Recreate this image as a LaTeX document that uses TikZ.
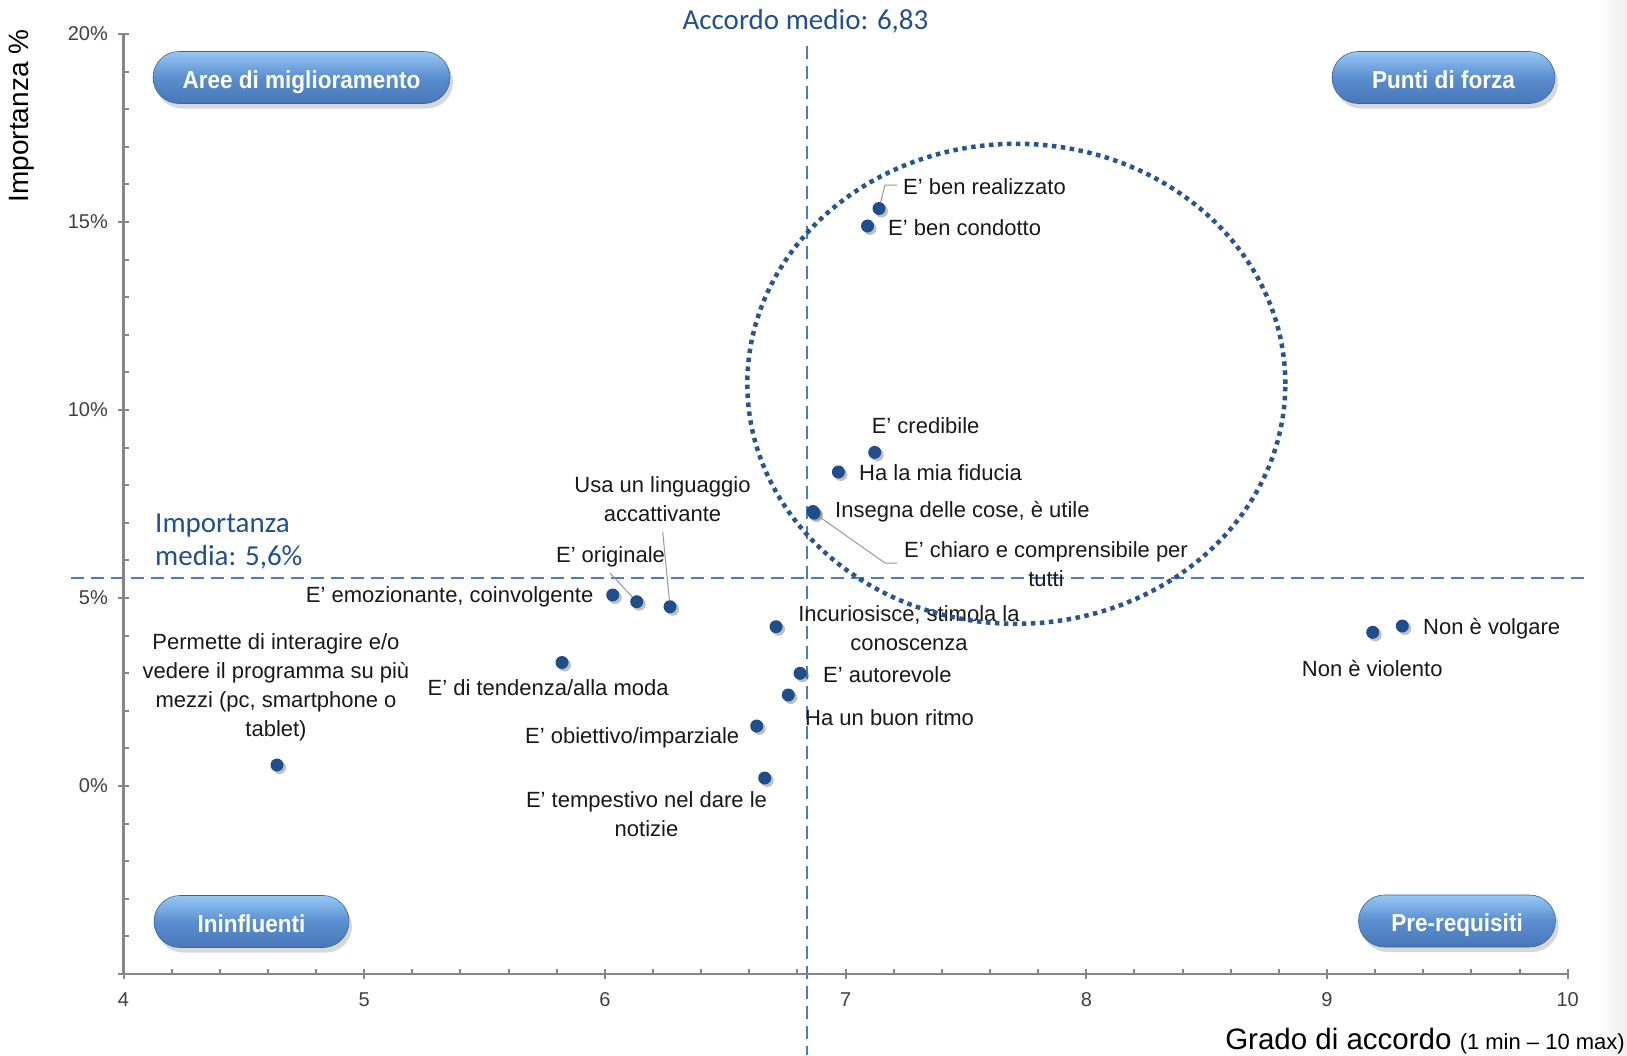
\documentclass[tikz,border=0pt]{standalone}
\usepackage{fontspec}
\setmainfont{Liberation Sans}
\newfontfamily\calib{Carlito}
\newfontfamily\btnfont[FakeStretch=0.92]{Liberation Sans}
\usetikzlibrary{shadows,calc}
\definecolor{dotblue}{HTML}{1F4E8A}
\definecolor{annblue}{HTML}{24508C}
\definecolor{dashblue}{HTML}{4A7EC0}
\definecolor{ellblue}{HTML}{2B5590}
\definecolor{axisgray}{HTML}{868686}
\definecolor{btntop}{HTML}{96C8F5}
\definecolor{btnmid}{HTML}{5B8ECF}
\definecolor{btnbot}{HTML}{4877B7}
\begin{document}
\begin{tikzpicture}[x=1pt,y=-1pt,
  lbl/.style={inner sep=0pt, font=\fontsize{22pt}{29pt}\selectfont, text=black!90},
  ticklbl/.style={inner sep=0pt, font=\fontsize{20pt}{24pt}\selectfont, text=black!75},
  ann/.style={inner sep=0pt, font=\calib\fontsize{29pt}{33pt}\selectfont, text=annblue},
  dotnode/.style={circle, fill=dotblue, minimum size=13pt, inner sep=0pt,
    drop shadow={shadow xshift=2.5pt, shadow yshift=-2.5pt, opacity=0.35, fill=black!70}},
  btn/.style={rounded corners=26pt, minimum height=52pt, inner sep=0pt,
    text height=21pt, text depth=0pt,
    top color=btntop, bottom color=btnbot, middle color=btnmid, text=white,
    draw=btnbot!85!black, line width=0.6pt,
    font=\btnfont\bfseries\fontsize{24.5pt}{28pt}\selectfont,
    drop shadow={shadow xshift=3pt, shadow yshift=-5pt, opacity=0.3}},
  leader/.style={draw=black!40, line width=1pt},
  axisline/.style={draw=axisgray, line width=2.2pt},
  meanline/.style={draw=dashblue, line width=2pt, dash pattern=on 13pt off 7pt}
]
\useasboundingbox (0,0) rectangle (1627,1055);
\fill[white] (0,0) rectangle (1627,1055);
\shade[left color=white, right color=black!7] (1598,0) rectangle (1627,1055);

% mean lines
\draw[meanline] (807,46) -- (807,1055);
\draw[meanline] (71,577.5) -- (1584,577.5);

% axes
\draw[axisline] (123.5,33) -- (123.5,974);
\draw[axisline] (118,974) -- (1567.7,974);
\foreach \p in {-5,...,20}{
  \draw[axisline, line width=2pt] (123.5,{786-37.6*\p}) -- (128.5,{786-37.6*\p});
}
\foreach \p in {-5,0,5,10,15,20}{
  \draw[axisline, line width=2pt] (117.5,{786-37.6*\p}) -- (128.5,{786-37.6*\p});
}
\foreach \i in {0,...,30}{
  \draw[axisline, line width=2pt] ({123.5+\i*48.14},974) -- ({123.5+\i*48.14},969);
}
\foreach \i in {0,5,...,30}{
  \draw[axisline, line width=2pt] ({123.5+\i*48.14},969) -- ({123.5+\i*48.14},979);
}
\foreach \v/\t in {20/20\%,15/15\%,10/10\%,5/5\%,0/0\%}{
  \node[ticklbl, anchor=east] (yl\v) at (108,{786-37.6*\v}) {\t};
}
\foreach \v in {4,...,10}{
  \node[ticklbl] (xl\v) at ({123.5+(\v-4)*240.7},999.5) {\v};
}
\node[inner sep=0pt, rotate=90, font=\fontsize{28pt}{32pt}\selectfont] (ytitle) at (22,116) {Importanza \%};
\node[inner sep=0pt, anchor=east] (xtitle) at (1625,1041)
  {\fontsize{29.5pt}{33pt}\selectfont Grado di accordo {\fontsize{22pt}{26pt}\selectfont(1 min – 10 max)}};

% annotations
\node[ann] (accordo) at (805.5,21) {Accordo medio: 6,83};
\node[ann, anchor=west, align=left] (impmedia) at (155,541.5) {Importanza\\media: 5,6\%};

% leader coordinates
\coordinate (r1) at (885,185);
\coordinate (r2) at (897,185);
\coordinate (c1) at (885,563);
\coordinate (c2) at (897,563);
\coordinate (o1) at (610,573);
\coordinate (u1) at (662.7,531.7);

% dots
\node[dotnode] (d1) at (879,208.5) {};
\node[dotnode] (d2) at (867.5,226) {};
\node[dotnode] (d3) at (874.7,452.4) {};
\node[dotnode] (d4) at (838.4,472) {};
\node[dotnode] (d6) at (814,513) {};
\node[dotnode] (d5) at (813,511.5) {};
\node[dotnode] (d7) at (612.7,595) {};
\node[dotnode] (d8) at (636.7,601.7) {};
\node[dotnode] (d9) at (670,606.7) {};
\node[dotnode] (d10) at (776,626.7) {};
\node[dotnode] (d11) at (800,673.3) {};
\node[dotnode] (d12) at (788.3,695) {};
\node[dotnode] (d13) at (756.7,726) {};
\node[dotnode] (d14) at (764.7,778) {};
\node[dotnode] (d15) at (562,662.5) {};
\node[dotnode] (d16) at (277,765) {};
\node[dotnode] (d17) at (1372.7,632.3) {};
\node[dotnode] (d18) at (1402.3,626) {};

% leaders
\draw[leader] (d1) -- (r1) -- (r2);
\draw[leader] (d6) -- (c1) -- (c2);
\draw[leader] (o1) -- (d8);
\draw[leader] (u1) -- (d9);

% labels
\node[lbl, anchor=west] (l1) at (903,186.7) {E’ ben realizzato};
\node[lbl, anchor=west] (l2) at (888,228) {E’ ben condotto};
\node[lbl, anchor=west] (l3) at (871.6,425.4) {E' credibile};
\node[lbl, anchor=west] (l4) at (859,473) {Ha la mia fiducia};
\node[lbl, anchor=west] (l5) at (835,511.5) {Insegna delle cose, è utile};
\node[lbl, align=center] (l6) at (1046,564.5) {E’ chiaro e comprensibile per\\tutti};
\node[lbl, anchor=east] (l7) at (593.5,596.6) {E’ emozionante, coinvolgente};
\node[lbl] (l8) at (610.5,557) {E’ originale};
\node[lbl, align=center] (l9) at (662.5,499) {Usa un linguaggio\\accattivante};
\node[lbl, align=center] (l10) at (909,628.5) {Incuriosisce, stimola la\\conoscenza};
\node[lbl, anchor=west] (l11) at (823,674.4) {E’ autorevole};
\node[lbl, anchor=west] (l12) at (805,718) {Ha un buon ritmo};
\node[lbl, anchor=west] (l13) at (525,737.7) {E’ obiettivo/imparziale};
\node[lbl, align=center] (l14) at (646.5,814.5) {E' tempestivo nel dare le\\notizie};
\node[lbl, anchor=west] (l15) at (427.5,688) {E’ di tendenza/alla moda};
\node[lbl, align=center] (l16) at (276,687) {Permette di interagire e/o\\vedere il programma su più\\mezzi (pc, smartphone o\\tablet)};
\node[lbl, anchor=west] (l17) at (1301.7,668) {Non è violento};
\node[lbl, anchor=west] (l18) at (1423,629) {Non è volgare};

% ellipse
\draw[ellblue, line width=4.5pt, dash pattern=on 4.5pt off 4.5pt] (1016.3,383.8) ellipse [x radius=269pt, y radius=240pt];

% quadrant buttons
\node[btn, minimum width=297pt] (bAree) at (301.5,77.5) {Aree di miglioramento};
\node[btn, minimum width=223pt] (bPunti) at (1443.5,77.5) {Punti di forza};
\node[btn, minimum width=195pt] (bInin) at (251.5,921.5) {Ininfluenti};
\node[btn, minimum width=197pt] (bPre) at (1457,921) {Pre-requisiti};
\end{tikzpicture}
\end{document}
